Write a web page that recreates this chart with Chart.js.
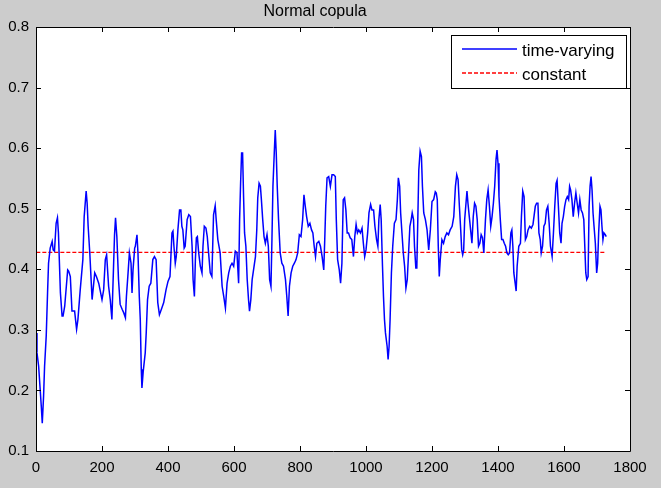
<!DOCTYPE html>
<html>
<head>
<meta charset="utf-8">
<script src="https://cdn.jsdelivr.net/npm/chart.js@4/dist/chart.umd.min.js"></script>
<style>
html,body{margin:0;padding:0;background:#cccccc;}
#c{display:block;}
</style>
</head>
<body>
<canvas id="c" width="661" height="488"></canvas>
<script>
const chartTitle = "Normal copula";
const seriesNames = ["time-varying", "constant"];
const seriesColors = ["#0000ff", "#ff0000"];
const xTicks = [0, 200, 400, 600, 800, 1000, 1200, 1400, 1600, 1800];
const yTicks = [0.1, 0.2, 0.3, 0.4, 0.5, 0.6, 0.7, 0.8];

const obs = [
1,3,8,12,16,19,23,26,31,35,38,43,49,52,56,61,65,68,74,79,82,87,96,99,104,109,117,123,127,134,
142,146,152,155,158,163,170,178,183,190,200,205,210,214,220,225,230,235,238,241,245,250,255,261,266,271,274,279,283,288,291,294,299,
301,306,309,313,316,319,321,325,331,334,338,343,348,354,359,364,369,374,380,387,394,400,406,412,415,418,422,425,430,435,
439,442,445,449,452,458,463,468,473,476,480,483,486,489,493,498,503,506,510,515,519,523,528,533,538,543,546,551,558,564,569,574,579,584,589,594,599,
604,609,614,617,620,623,626,629,632,636,640,644,647,651,655,660,665,669,672,676,680,683,687,691,695,700,704,708,712,715,
718,722,725,728,731,735,740,745,750,756,760,764,768,773,778,783,788,793,798,803,808,812,816,820,825,830,835,839,843,847,
851,857,862,867,872,875,878,882,887,892,897,902,
907,910,914,919,923,927,931,935,939,943,947,952,957,962,966,970,974,978,983,988,992,996,1000,1005,1009,1014,1018,1023,1027,1032,
1036,1039,1043,1046,1050,1053,1056,1059,1064,1067,1070,1073,1077,1081,1086,1091,1095,1098,1102,1105,1109,1113,1117,1121,1125,1129,1133,1137,1140,1144,
1147,1151,1154,1157,1160,1164,1168,1171,1175,1180,1185,1190,1195,1200,1205,
1210,1213,1216,1219,1222,1225,1230,1235,1240,1245,1250,1255,1261,1266,1271,1275,1279,1283,1287,1290,1293,1296,1299,1303,1306,1309,1313,1317,1321,1325,
1329,1333,1337,1341,1345,1349,1353,1357,1362,1366,1370,1374,1378,1382,1386,1390,1394,1397,1400,1403,1407,1411,1415,1419,1423,1427,1431,1435,1439,1442,
1445,1448,1452,1455,1458,1463,1468,1471,1475,1479,1483,1487,1491,1496,1501,1506,
1513,1517,1521,1524,1528,1531,1535,1539,1543,1547,1551,1555,1559,1564,1568,1572,1576,1579,1583,1587,1591,1594,1598,1602,1606,1610,1614,1617,1620,1624,
1628,1632,1636,1640,1644,1648,1652,1656,1660,1663,1666,1669,1673,1676,1679,1682,1685,1688,1691,1695,1699,1702,1705,1709,1712,1715,1718,1721,1725,1728
];

const timeVarying = [
0.295,0.262,0.240,0.207,0.174,0.146,0.191,0.240,0.290,0.361,0.410,0.435,0.446,0.432,0.430,0.476,0.485,0.460,0.361,0.323,0.323,0.339,0.399,0.397,0.388,0.331,0.331,0.301,0.317,0.366,
0.416,0.487,0.529,0.509,0.471,0.427,0.350,0.394,0.388,0.377,0.350,0.366,0.416,0.424,0.372,0.350,0.317,0.405,0.457,0.485,0.454,0.383,0.342,0.334,0.328,0.320,0.355,0.394,0.427,0.410,0.361,0.399,0.435,
0.438,0.457,0.427,0.355,0.317,0.235,0.204,0.232,0.262,0.295,0.350,0.372,0.377,0.416,0.421,0.416,0.345,0.325,0.334,0.345,0.366,0.380,0.388,0.460,0.463,0.438,0.410,0.421,0.465,0.498,
0.498,0.471,0.465,0.435,0.438,0.482,0.490,0.487,0.438,0.383,0.355,0.416,0.452,0.454,0.427,0.405,0.394,0.438,0.471,0.468,0.454,0.427,0.394,0.388,0.490,0.505,0.482,0.449,0.427,0.372,0.355,0.336,0.377,0.394,0.405,0.410,0.405,
0.430,0.427,0.377,0.482,0.542,0.592,0.592,0.520,0.460,0.438,0.383,0.350,0.331,0.350,0.383,0.402,0.421,0.465,0.518,0.542,0.537,0.515,0.482,0.454,0.443,0.457,0.438,0.383,0.372,0.449,
0.537,0.592,0.630,0.592,0.537,0.482,0.427,0.410,0.405,0.383,0.355,0.323,0.372,0.394,0.405,0.410,0.416,0.427,0.457,0.454,0.482,0.523,0.504,0.487,0.471,0.476,0.465,0.460,0.438,0.421,
0.443,0.446,0.438,0.421,0.399,0.449,0.504,0.551,0.553,0.537,0.556,0.556,
0.553,0.482,0.416,0.399,0.377,0.410,0.515,0.518,0.498,0.460,0.460,0.452,0.449,0.421,0.454,0.474,0.460,0.465,0.460,0.468,0.443,0.421,0.432,0.460,0.493,0.507,0.498,0.498,0.471,0.449,
0.438,0.482,0.507,0.482,0.405,0.355,0.317,0.295,0.273,0.251,0.273,0.317,0.394,0.438,0.476,0.482,0.515,0.551,0.537,0.493,0.460,0.427,0.405,0.369,0.383,0.427,0.471,0.482,0.493,0.482,
0.438,0.402,0.402,0.482,0.564,0.595,0.586,0.537,0.493,0.482,0.465,0.432,0.465,0.512,0.515,
0.528,0.526,0.515,0.438,0.388,0.416,0.449,0.443,0.454,0.460,0.457,0.465,0.471,0.487,0.537,0.556,0.548,0.504,0.465,0.432,0.424,0.432,0.482,0.509,0.529,0.509,0.487,0.465,0.443,0.487,
0.509,0.504,0.482,0.438,0.443,0.457,0.452,0.427,0.482,0.515,0.531,0.504,0.471,0.487,0.509,0.537,0.581,0.597,0.575,0.520,0.482,0.449,0.449,0.443,0.438,0.427,0.424,0.427,0.460,0.465,
0.438,0.394,0.377,0.364,0.405,0.438,0.443,0.487,0.529,0.520,0.449,0.454,0.465,0.471,0.468,0.474,
0.504,0.509,0.509,0.460,0.449,0.427,0.438,0.471,0.476,0.498,0.504,0.476,0.438,0.421,0.460,0.504,0.542,0.547,0.504,0.460,0.443,0.476,0.487,0.504,0.515,0.520,0.515,0.537,0.531,0.515,
0.487,0.509,0.526,0.509,0.493,0.515,0.498,0.493,0.482,0.438,0.394,0.383,0.388,0.504,0.537,0.553,0.531,0.493,0.471,0.443,0.394,0.410,0.460,0.504,0.498,0.471,0.449,0.460,0.457,0.454
];

const constantValue = 0.428;
const constantRange = [1, 1728];

const FONT = "'Liberation Sans', Arial, Helvetica, sans-serif";

const tvData = obs.map((x, i) => ({x: x, y: timeVarying[i]}));
const cData = constantRange.map(x => ({x: x, y: constantValue}));

const framePlugin = {
  id: 'frame',
  beforeDraw(chart) {
    const ctx = chart.ctx, a = chart.chartArea;
    ctx.save();
    ctx.fillStyle = '#cccccc';
    ctx.fillRect(0, 0, chart.width, chart.height);
    ctx.fillStyle = '#ffffff';
    ctx.fillRect(a.left, a.top, a.right - a.left, a.bottom - a.top);
    ctx.restore();
  },
  afterDraw(chart) {
    const ctx = chart.ctx, a = chart.chartArea;
    const xs = chart.scales.x, ys = chart.scales.y;
    ctx.save();
    ctx.strokeStyle = '#000000';
    ctx.lineWidth = 1;
    ctx.beginPath();
    ctx.rect(Math.round(a.left) + 0.5, Math.round(a.top) + 0.5, Math.round(a.right - a.left), Math.round(a.bottom - a.top));
    ctx.stroke();
    const tl = 5;
    ctx.beginPath();
    xTicks.forEach(v => {
      const px = Math.round(xs.getPixelForValue(v)) + 0.5;
      ctx.moveTo(px, a.bottom); ctx.lineTo(px, a.bottom - tl);
      ctx.moveTo(px, a.top); ctx.lineTo(px, a.top + tl);
    });
    yTicks.forEach(v => {
      const py = Math.round(ys.getPixelForValue(v)) + 0.5;
      ctx.moveTo(a.left, py); ctx.lineTo(a.left + tl, py);
      ctx.moveTo(a.right, py); ctx.lineTo(a.right - tl, py);
    });
    ctx.stroke();

    // legend box
    const bx = 451.5, by = 35.5, bw = 175, bh = 53;
    ctx.fillStyle = '#ffffff';
    ctx.fillRect(bx, by, bw, bh);
    ctx.strokeStyle = '#000000';
    ctx.lineWidth = 1;
    ctx.strokeRect(bx, by, bw, bh);
    const rows = [49, 73];
    seriesNames.forEach((name, i) => {
      ctx.save();
      ctx.strokeStyle = seriesColors[i];
      ctx.lineWidth = 1.6;
      ctx.setLineDash(i === 1 ? [4, 2] : []);
      ctx.beginPath();
      ctx.moveTo(462, rows[i]); ctx.lineTo(517, rows[i]);
      ctx.stroke();
      ctx.restore();
      ctx.fillStyle = '#000000';
      ctx.font = '17px ' + FONT;
      ctx.textBaseline = 'middle';
      ctx.textAlign = 'left';
      ctx.fillText(name, 522, rows[i] + 2);
    });
    ctx.restore();
  }
};

new Chart(document.getElementById('c'), {
  type: 'line',
  data: {
    datasets: [
      {label: seriesNames[0], data: tvData, borderColor: seriesColors[0], borderWidth: 1.5, pointRadius: 0, tension: 0, fill: false},
      {label: seriesNames[1], data: cData, borderColor: seriesColors[1], borderWidth: 1.3, borderDash: [4, 2], pointRadius: 0, tension: 0, fill: false}
    ]
  },
  options: {
    responsive: false,
    animation: false,
    devicePixelRatio: 1,
    layout: {padding: {top: 0, right: 31, bottom: 0, left: 0}},
    plugins: {
      legend: {display: false},
      tooltip: {enabled: false},
      title: {
        display: true,
        text: chartTitle,
        color: '#000000',
        font: {family: FONT, size: 16, weight: 'normal', lineHeight: 1.2},
        padding: {top: 2, bottom: 5.8}
      }
    },
    scales: {
      x: {
        type: 'linear',
        min: 0, max: 1800,
        afterBuildTicks(scale) { scale.ticks = xTicks.map(v => ({value: v})); },
        afterFit(scale) { scale.height = 37; },
        grid: {display: false, drawTicks: false},
        border: {display: false},
        ticks: {color: '#000000', padding: 8, maxRotation: 0, autoSkip: false, font: {family: FONT, size: 15}, callback: v => String(v)}
      },
      y: {
        type: 'linear',
        min: 0.1, max: 0.8,
        afterBuildTicks(scale) { scale.ticks = yTicks.map(v => ({value: v})); },
        afterFit(scale) { scale.width = 36; },
        grid: {display: false, drawTicks: false},
        border: {display: false},
        ticks: {color: '#000000', padding: 7, autoSkip: false, font: {family: FONT, size: 15}, callback: v => Number(v).toFixed(1)}
      }
    }
  },
  plugins: [framePlugin]
});
</script>
</body>
</html>
